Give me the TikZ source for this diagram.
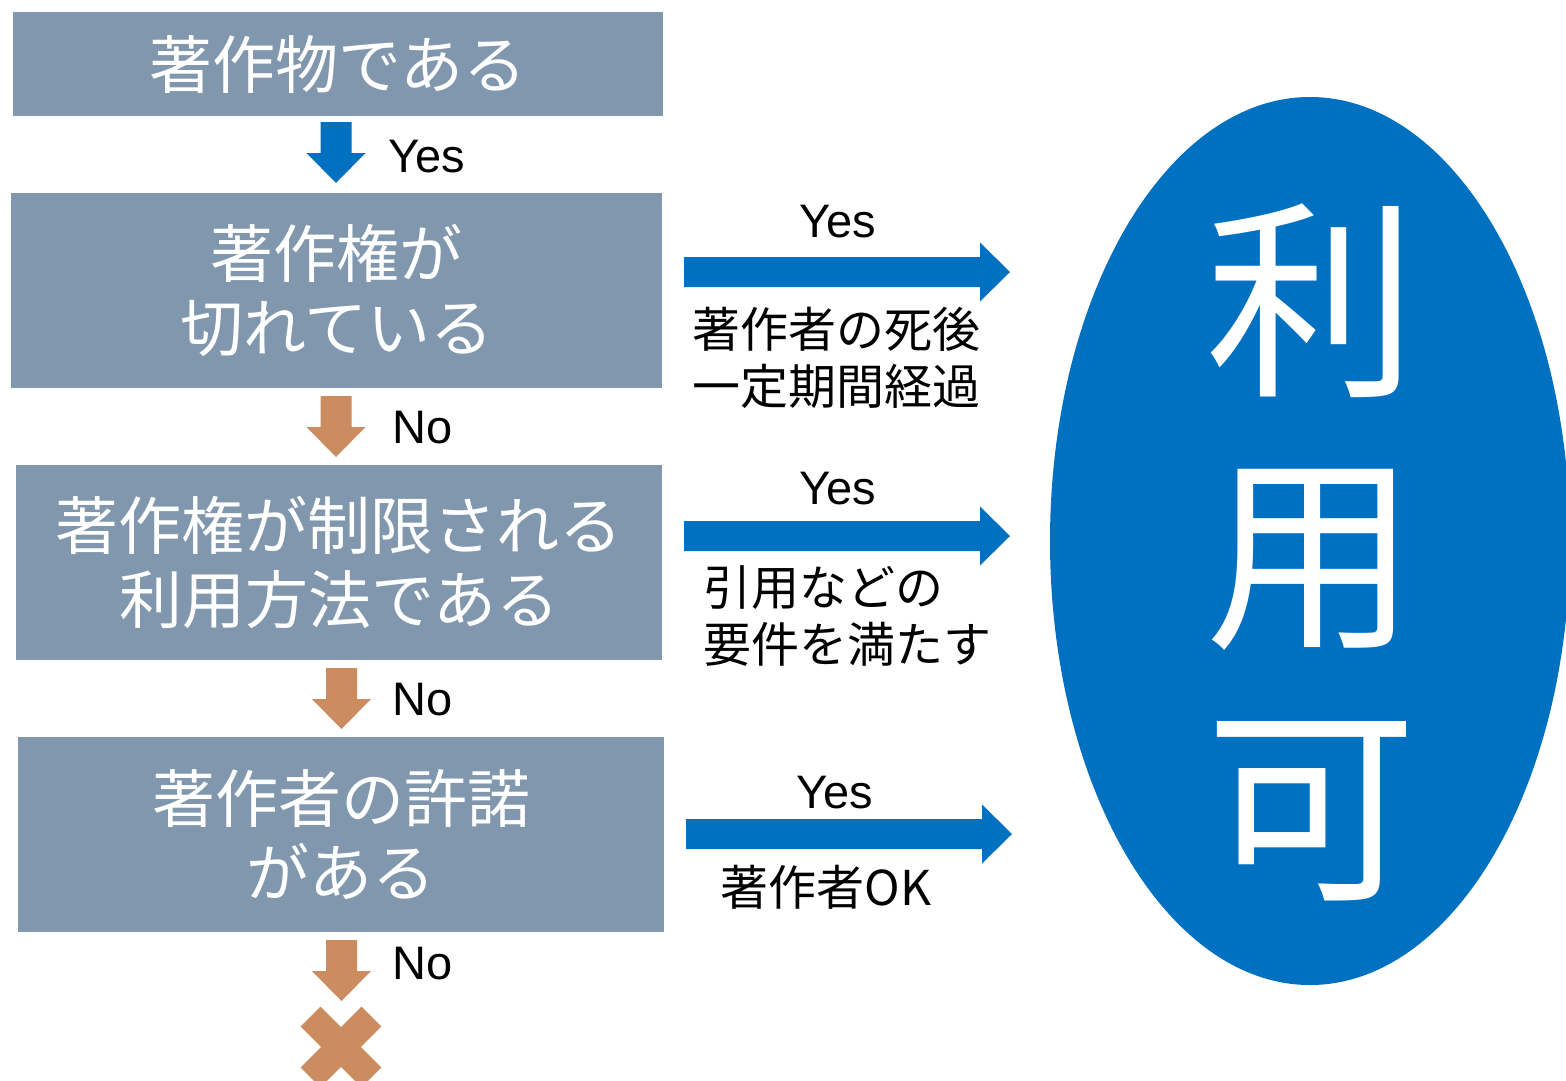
\documentclass[tikz,border=0pt]{standalone}
\usepackage{fontspec}
\setmainfont{Liberation Sans}
\newfontfamily\cjk{Noto Sans CJK JP}
\usetikzlibrary{shapes.geometric}
\definecolor{boxgray}{HTML}{8097AE}
\definecolor{okblue}{HTML}{0070C0}
\definecolor{nobrown}{HTML}{CB8C5F}
\tikzset{
  qbox/.style={draw=none, fill=boxgray, text=white, anchor=north west, inner sep=0pt,
    align=center, font=\cjk\fontsize{63}{74}\selectfont},
  yn/.style={font=\fontsize{47}{52}\selectfont, inner sep=0pt, text=black},
  side/.style={font=\cjk\fontsize{48}{57}\selectfont, inner sep=0pt, text=black},
  darr/.pic={\fill (-15.5,0) -- (15.5,0) -- (15.5,31) -- (29.5,31) -- (0,61) -- (-29.5,31) -- (-15.5,31) -- cycle;},
  rarr/.pic={\fill (0,-15) -- (296,-15) -- (296,-29.5) -- (326,0) -- (296,29.5) -- (296,15) -- (0,15) -- cycle;},
}
\begin{document}
\begin{tikzpicture}[x=1pt,y=-1pt]
\useasboundingbox (0,0) rectangle (1566,1080);
\clip (0,0) rectangle (1566,1080);
\fill[white] (0,0) rectangle (1566,1080);
% question boxes
\node[qbox, minimum width=650pt, minimum height=104pt] (b1) at (13,12) {著作物である};
\node[qbox, minimum width=651pt, minimum height=195pt] (b2) at (11,193) {著作権が\\切れている};
\node[qbox, minimum width=646pt, minimum height=195pt] (b3) at (16,465) {著作権が制限される\\利用方法である};
\node[qbox, minimum width=646pt, minimum height=195pt] (b4) at (18,737) {著作者の許諾\\がある};
% down arrows
\pic[okblue] at (336,122) {darr};
\pic[nobrown] at (336,396) {darr};
\pic[nobrown] at (341.5,668) {darr};
\pic[nobrown] at (341.5,940) {darr};
\node[yn] (y0) at (427,157) {Yes};
\node[yn] (n1) at (423,428) {No};
\node[yn] (n2) at (423,700) {No};
\node[yn] (n3) at (423,964) {No};
% cross
\fill[nobrown, rotate around={45:(341,1047)}] (298,1033) rectangle (384,1061);
\fill[nobrown, rotate around={-45:(341,1047)}] (298,1033) rectangle (384,1061);
% right arrows
\pic[okblue] at (684,272) {rarr};
\pic[okblue] at (684,536) {rarr};
\pic[okblue] at (686,834) {rarr};
\node[yn] (y1) at (838,222) {Yes};
\node[yn] (y2) at (838,489) {Yes};
\node[yn] (y3) at (835,793) {Yes};
\node[side, align=center] (l1) at (836,358) {著作者の死後\\一定期間経過};
\node[side, align=left, anchor=west] (l2) at (703,616) {引用などの\\要件を満たす};
\node[side] (l3) at (826,887) {{\cjk 著作者}OK};
% result ellipse
\node[ellipse, fill=okblue, draw=none, minimum width=520pt, minimum height=888pt, inner sep=0pt] (ok) at (1310,541) {};
\node[text=white, align=center, inner sep=0pt, font=\cjk\fontsize{212}{252}\selectfont] (okt) at (1311,552) {利\\用\\可};
\end{tikzpicture}
\end{document}
